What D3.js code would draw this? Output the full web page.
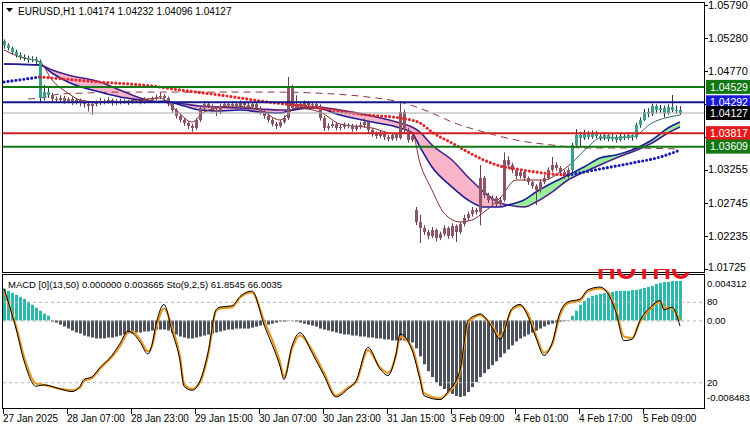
<!DOCTYPE html>
<html><head><meta charset="utf-8">
<script src="https://cdn.jsdelivr.net/npm/d3@7"></script>
<style>body{margin:0;background:#fff}svg{display:block}text{font-family:"Liberation Sans",Arial,sans-serif}</style>
</head><body><svg id="c" width="750" height="430"></svg>
<script>
// ---------- DATA ----------
const symbolTitle = "EURUSD,H1";
const lastOHLC = ["1.04174","1.04232","1.04096","1.04127"];
const indicatorTitle = "MACD [0](13,50) 0.000000 0.003665   Sto(9,2,5) 61.8545 66.0035";

const opens = [
1.05235,1.05174,1.05128,1.05066,1.05020,1.04989,1.04974,1.04943,1.04958,1.04928,
1.04358,1.04450,1.04404,1.04342,1.04327,1.04358,1.04312,1.04342,1.04296,1.04327,
1.04281,1.04265,1.04235,1.04265,1.04281,1.04312,1.04296,1.04327,1.04281,1.04312,
1.04296,1.04312,1.04296,1.04327,1.04312,1.04296,1.04327,1.04312,1.04342,1.04373,
1.04389,1.04358,1.04265,1.04173,1.04081,1.04019,1.03973,1.03927,1.03896,1.04019,
1.04204,1.04265,1.04235,1.04173,1.04142,1.04235,1.04265,1.04250,1.04265,1.04235,
1.04281,1.04250,1.04219,1.04265,1.04204,1.04142,1.04081,1.04019,1.03957,1.03927,
1.03988,1.04050,1.04512,1.04204,1.04265,1.04235,1.04281,1.04250,1.04265,1.04235,
1.04050,1.03896,1.03927,1.03957,1.03896,1.03911,1.03942,1.03927,1.03880,1.03911,
1.03942,1.03988,1.03865,1.03803,1.03773,1.03819,1.03757,1.03726,1.03788,1.03742,
1.04142,1.03865,1.03711,1.02633,1.02448,1.02356,1.02294,1.02233,1.02325,1.02202,
1.02263,1.02356,1.02233,1.02387,1.02294,1.02417,1.02510,1.02571,1.02633,1.02602,
1.03126,1.02864,1.02787,1.02818,1.02725,1.02787,1.03403,1.03326,1.03249,1.03157,
1.03218,1.03126,1.03064,1.03003,1.02941,1.03064,1.03126,1.03249,1.03326,1.03280,
1.03218,1.03157,1.03249,1.03634,1.03788,1.03742,1.03803,1.03757,1.03819,1.03773,
1.03742,1.03788,1.03726,1.03757,1.03711,1.03773,1.03742,1.03788,1.03757,1.03942,
1.04019,1.04142,1.04111,1.04235,1.04173,1.04204,1.04127,1.04219,1.04173,1.04174];
const highs = [
1.05260,1.05200,1.05150,1.05100,1.05060,1.05030,1.05010,1.05000,1.04990,1.04950,
1.04560,1.04520,1.04440,1.04380,1.04400,1.04390,1.04370,1.04380,1.04360,1.04350,
1.04320,1.04300,1.04300,1.04320,1.04360,1.04340,1.04370,1.04350,1.04340,1.04350,
1.04340,1.04330,1.04360,1.04350,1.04340,1.04370,1.04350,1.04380,1.04410,1.04440,
1.04420,1.04380,1.04290,1.04200,1.04110,1.04050,1.04000,1.03960,1.04050,1.04240,
1.04310,1.04300,1.04260,1.04200,1.04270,1.04300,1.04300,1.04310,1.04290,1.04320,
1.04310,1.04280,1.04300,1.04290,1.04230,1.04170,1.04110,1.04050,1.03990,1.04020,
1.04090,1.04681,1.04560,1.04400,1.04300,1.04320,1.04310,1.04300,1.04300,1.04260,
1.04080,1.03970,1.04000,1.03990,1.03950,1.03980,1.03970,1.03960,1.03950,1.03990,
1.04040,1.04010,1.03890,1.03840,1.03860,1.03850,1.03790,1.03820,1.03810,1.04313,
1.04180,1.03900,1.03820,1.02679,1.02560,1.02400,1.02330,1.02370,1.02350,1.02300,
1.02400,1.02380,1.02430,1.02410,1.02450,1.02560,1.02610,1.02680,1.02660,1.03326,
1.03160,1.02900,1.02860,1.02850,1.02830,1.03520,1.03460,1.03360,1.03280,1.03260,
1.03250,1.03150,1.03090,1.03030,1.03100,1.03170,1.03290,1.03450,1.03370,1.03310,
1.03250,1.03290,1.03670,1.03880,1.03830,1.03870,1.03850,1.03860,1.03850,1.03800,
1.03830,1.03810,1.03800,1.03790,1.03820,1.03800,1.03830,1.03800,1.03980,1.04060,
1.04190,1.04200,1.04270,1.04260,1.04250,1.04240,1.04260,1.04404,1.04240,1.04232];
const lows = [
1.05120,1.05090,1.05030,1.04980,1.04950,1.04930,1.04900,1.04910,1.04880,1.04300,
1.04320,1.04360,1.04300,1.04280,1.04290,1.04270,1.04280,1.04250,1.04260,1.04230,
1.04210,1.04150,1.04100,1.04230,1.04250,1.04260,1.04270,1.04240,1.04250,1.04260,
1.04270,1.04250,1.04270,1.04280,1.04260,1.04270,1.04280,1.04290,1.04320,1.04340,
1.04320,1.04230,1.04130,1.04040,1.03980,1.03930,1.03880,1.03840,1.03870,1.03990,
1.04170,1.04200,1.04130,1.04080,1.04110,1.04200,1.04210,1.04220,1.04190,1.04200,
1.04210,1.04180,1.04190,1.04170,1.04100,1.04040,1.03980,1.03920,1.03880,1.03900,
1.03960,1.04020,1.04170,1.04180,1.04200,1.04210,1.04210,1.04220,1.04200,1.04010,
1.03850,1.03860,1.03900,1.03860,1.03860,1.03880,1.03890,1.03840,1.03850,1.03880,
1.03900,1.03820,1.03760,1.03730,1.03740,1.03710,1.03690,1.03700,1.03700,1.03720,
1.03820,1.03670,1.03680,1.02400,1.02125,1.02250,1.02180,1.02200,1.02150,1.02170,
1.02230,1.02190,1.02200,1.02140,1.02260,1.02380,1.02470,1.02530,1.02560,1.02400,
1.02820,1.02740,1.02720,1.02680,1.02690,1.02760,1.03280,1.03200,1.03110,1.03120,
1.03080,1.03020,1.02960,1.02710,1.02900,1.03030,1.03100,1.03220,1.03240,1.03170,
1.03110,1.03120,1.03220,1.03600,1.03620,1.03710,1.03720,1.03730,1.03740,1.03700,
1.03710,1.03690,1.03690,1.03670,1.03690,1.03710,1.03720,1.03700,1.03730,1.03900,
1.04000,1.04060,1.04080,1.04120,1.04130,1.04060,1.04100,1.04140,1.04120,1.04096];
const closes = [
1.05174,1.05128,1.05066,1.05020,1.04989,1.04974,1.04943,1.04958,1.04928,1.04358,
1.04450,1.04404,1.04342,1.04327,1.04358,1.04312,1.04342,1.04296,1.04327,1.04281,
1.04265,1.04235,1.04265,1.04281,1.04312,1.04296,1.04327,1.04281,1.04312,1.04296,
1.04312,1.04296,1.04327,1.04312,1.04296,1.04327,1.04312,1.04342,1.04373,1.04389,
1.04358,1.04265,1.04173,1.04081,1.04019,1.03973,1.03927,1.03896,1.04019,1.04204,
1.04265,1.04235,1.04173,1.04142,1.04235,1.04265,1.04250,1.04265,1.04235,1.04281,
1.04250,1.04219,1.04265,1.04204,1.04142,1.04081,1.04019,1.03957,1.03927,1.03988,
1.04050,1.04512,1.04204,1.04265,1.04235,1.04281,1.04250,1.04265,1.04235,1.04050,
1.03896,1.03927,1.03957,1.03896,1.03911,1.03942,1.03927,1.03880,1.03911,1.03942,
1.03988,1.03865,1.03803,1.03773,1.03819,1.03757,1.03726,1.03788,1.03742,1.04142,
1.03865,1.03711,1.03773,1.02448,1.02356,1.02294,1.02233,1.02325,1.02202,1.02263,
1.02356,1.02233,1.02387,1.02294,1.02417,1.02510,1.02571,1.02633,1.02602,1.03126,
1.02864,1.02787,1.02818,1.02725,1.02787,1.03403,1.03326,1.03249,1.03157,1.03218,
1.03126,1.03064,1.03003,1.02941,1.03064,1.03126,1.03249,1.03326,1.03280,1.03218,
1.03157,1.03249,1.03634,1.03788,1.03742,1.03803,1.03757,1.03819,1.03773,1.03742,
1.03788,1.03726,1.03757,1.03711,1.03773,1.03742,1.03788,1.03757,1.03942,1.04019,
1.04142,1.04111,1.04235,1.04173,1.04204,1.04127,1.04219,1.04173,1.04174,1.04127];

// bar ranges (inclusive) in the up-trend regime (teal candles / blue dots)
const candleUpRanges = [[0, 11], [142, 169]];
const dotUpRanges = [[0, 9], [141, 169]];

// trend-following dotted line (bar index, price)
const dotIdx = [0,9,12,24,37,44,54,66,77,82,91,99,104,107,112,116,120,124,128,133,137,141,149,157,164,169];
const dotVal = [1.04604,1.04681,1.04666,1.04604,1.04543,1.04481,1.04404,1.04296,1.04219,1.04173,1.04096,1.04050,1.03973,1.03834,1.03665,1.03526,1.03403,1.03311,1.03265,1.03218,1.03187,1.03172,1.03265,1.03357,1.03449,1.03557];

// cloud: fast line A and slow line B
const cloudIdx = [0,9,12,16,24,29,34,37,40,45,49,54,59,64,69,72,74,78,84,92,99,102,104,107,112,116,120,124,126,130,133,137,141,145,149,153,157,162,166,169];
const cloudA = [1.04881,1.04866,1.04743,1.04604,1.04449,1.04373,1.04327,1.04296,1.04312,1.04235,1.04173,1.04158,1.04173,1.04142,1.04127,1.04173,1.04204,1.04204,1.04096,1.03988,1.03896,1.03819,1.03603,1.03295,1.02987,1.02787,1.02679,1.02679,1.02710,1.02787,1.02910,1.03049,1.03172,1.03295,1.03434,1.03480,1.03557,1.03711,1.03896,1.03988];
const cloudB = [1.04881,1.04866,1.04789,1.04712,1.04604,1.04481,1.04358,1.04312,1.04296,1.04265,1.04235,1.04219,1.04204,1.04189,1.04173,1.04173,1.04189,1.04219,1.04173,1.04081,1.03973,1.03911,1.03834,1.03634,1.03403,1.03141,1.02910,1.02741,1.02710,1.02679,1.02756,1.02910,1.03095,1.03218,1.03327,1.03434,1.03526,1.03665,1.03819,1.03911];

// fast moving average
const fastIdx = [0,4,9,12,16,19,24,32,39,43,47,50,57,64,69,73,79,84,92,98,102,104,107,110,114,117,120,124,128,132,135,139,142,146,149,157,162,169];
const fastVal = [1.05097,1.04989,1.04912,1.04635,1.04434,1.04327,1.04296,1.04312,1.04358,1.04173,1.03988,1.04142,1.04235,1.04173,1.04019,1.04204,1.04142,1.03957,1.03896,1.03803,1.03834,1.03357,1.02941,1.02587,1.02449,1.02480,1.02602,1.02818,1.03095,1.03095,1.03095,1.03218,1.03357,1.03603,1.03742,1.03757,1.03973,1.04096];

// slow dashed moving average
const slowIdx = [6,9,14,20,30,39,54,68,78,91,99,107,112,120,128,137,145,154,169];
const slowVal = [1.04342,1.04358,1.04419,1.04434,1.04449,1.04449,1.04449,1.04449,1.04434,1.04373,1.04296,1.04127,1.03988,1.03834,1.03711,1.03634,1.03588,1.03588,1.03573];

// horizontal levels
const levelValues = [1.04529, 1.04292, 1.03817, 1.03609];
const currentPrice = 1.04127;
const priceTicks = [1.05790,1.05280,1.04770,1.04265,1.03765,1.03255,1.02745,1.02235,1.01725];

// MACD histogram (x 1e-4)
const macdHist = [
34.5,32.3,30.1,28.0,25.8,23.6,20.4,17.1,13.9,10.6,
7.4,5.2,-1.3,-2.4,-4.6,-6.7,-8.9,-11.1,-13.2,-14.3,
-16.5,-17.6,-18.7,-19.7,-19.7,-19.7,-18.7,-18.7,-17.6,-16.5,
-15.4,-14.3,-14.3,-13.2,-13.2,-12.1,-12.1,-11.1,-10.0,-10.0,
-10.0,-11.1,-13.2,-15.4,-17.6,-18.7,-19.7,-19.7,-18.7,-17.6,
-16.5,-15.4,-14.3,-13.2,-12.1,-11.1,-10.0,-10.0,-8.9,-8.9,
-8.9,-8.9,-7.8,-6.7,-5.6,-4.6,-4.6,-3.5,-2.4,-1.3,
-1.3,-0.4,-0.4,-1.3,-2.4,-3.5,-4.6,-5.6,-6.7,-8.9,
-10.0,-11.1,-12.1,-13.2,-14.3,-15.4,-15.4,-16.5,-16.5,-17.6,
-17.6,-18.7,-18.7,-19.7,-19.7,-20.8,-20.8,-21.9,-21.9,-21.9,
-21.9,-23.0,-24.1,-30.6,-39.3,-48.0,-55.5,-62.0,-67.4,-71.8,
-75.0,-78.3,-80.4,-82.6,-83.7,-82.6,-78.3,-72.9,-67.4,-62.0,
-57.6,-53.3,-48.9,-44.7,-40.3,-36.0,-31.7,-27.3,-23.0,-19.7,
-17.6,-15.4,-13.2,-11.1,-8.9,-6.7,-4.6,-3.5,-2.4,-1.3,
-0.8,-0.4,5.2,10.6,17.1,21.5,24.7,26.9,28.0,29.1,
30.1,31.2,31.2,32.3,32.3,32.3,32.3,33.4,33.4,34.5,
35.6,36.7,37.7,39.9,41.0,42.1,42.1,43.2,43.2,43.2];
const macdRange = [-84.83, 43.12]; // window min / max (x 1e-4)
const macdAxisLabels = ["-0.008483", "0.00", "0.004312"];

// Stochastic
const stochIdx = [0,3,5,8,10,14,17,19,20,22,24,27,29,31,32,34,36,37,38,40,42,44,45,47,49,51,53,54,57,59,62,65,69,70,72,74,77,80,83,86,88,91,94,96,98,99,102,104,105,109,111,114,116,118,119,122,124,127,129,131,133,135,137,139,141,144,146,149,151,153,155,157,159,162,164,165,167,169];
const stochMain = [90,60,36,17,18,15,13,17,22,24,31,40,49,58,57,50,41,48,63,78,58,36,17,14,21,42,74,76,77,84,88,63,32,22,47,57,42,25,9,15,21,46,30,25,41,56,44,22,10,7,13,29,66,70,71,61,52,75,78,69,53,40,49,72,80,82,89,91,86,72,51,52,66,77,81,74,76,61.85];
const stochSignal = [88,62,39,19,18,15,14,16,21,23,30,39,47,57,58,52,43,47,60,75,61,39,19,15,20,40,73,75,76,83,87,66,35,24,45,55,44,27,10,16,20,44,31,27,40,54,46,24,12,8,12,27,64,69,70,62,54,74,77,71,55,42,48,70,79,81,88,90,87,74,54,53,65,76,80,76,75,66.0];
const stochLevels = [80, 20];

// time axis
const timeIdx = [0,16,32,48,64,80,96,112,128,144,160];
const timeLabels = ["27 Jan 2025","28 Jan 07:00","28 Jan 23:00","29 Jan 15:00","30 Jan 07:00","30 Jan 23:00","31 Jan 15:00","3 Feb 09:00","4 Feb 01:00","4 Feb 17:00","5 Feb 09:00"];

// ---------- STYLE ----------
const C = {
  tealBody:"#3b9e8b", tealWick:"#1f3f38", brownBody:"#8a5666", brownWick:"#6e3c4c",
  dotDown:"#e0262a", dotUp:"#1c1cb0", pink:"#f8b4c8", green:"#9aef9a",
  lineA:"#1c1c96", lineB:"#4a1f8a", fastDown:"#8b2a2a", fastUp:"#2b6b5c", slow:"#8b3a3a",
  levels:["#137813","#16168a","#d42020","#137813"], boxes:["#137813","#1a1ad8","#e21c1c","#137813"],
  macdPos:"#2cb8aa", macdNeg:"#4c515b", stochMain:"#000", stochSig:"#e8961e"
};

// ---------- DRAW ----------
const svg = d3.select("#c");
const L = 3, R = 704, mTop = 3, mBot = 272, sTop = 275, sBot = 409;
const x = d3.scaleLinear().domain([0, 169]).range([4, 680]);
const y = d3.scaleLinear().domain([1.01725, 1.05790]).range([269, 5]);
const yS = d3.scaleLinear().domain([0, 100]).range([409, 275]);
const yM = d3.scaleLinear().domain(macdRange).range([398, 281]);
const inR = (i, rs) => rs.some(([a, b]) => i >= a && i <= b);

const defs = svg.append("defs");
defs.append("clipPath").attr("id","mclip").append("rect").attr("x",L).attr("y",mTop).attr("width",R-L).attr("height",mBot-mTop);
defs.append("clipPath").attr("id","sclip").append("rect").attr("x",L).attr("y",sTop).attr("width",R-L).attr("height",sBot-sTop);

const cloud = cloudIdx.map((d,k)=>({i:d,a:cloudA[k],b:cloudB[k]}));
const cv = d3.curveMonotoneX;
const aboveA = d3.area().curve(cv).x(d=>x(d.i)).y0(0).y1(d=>y(d.a));
const belowA = d3.area().curve(cv).x(d=>x(d.i)).y0(430).y1(d=>y(d.a));
defs.append("clipPath").attr("id","cpPink").append("path").attr("d",aboveA(cloud));
defs.append("clipPath").attr("id","cpGreen").append("path").attr("d",belowA(cloud));

const main = svg.append("g").attr("clip-path","url(#mclip)");
const areaAB = d3.area().curve(cv).x(d=>x(d.i)).y0(d=>y(d.a)).y1(d=>y(d.b));
main.append("g").attr("clip-path","url(#cpPink)").append("path").attr("d",areaAB(cloud)).attr("fill",C.pink);
main.append("g").attr("clip-path","url(#cpGreen)").append("path").attr("d",areaAB(cloud)).attr("fill",C.green);

// slow dashed MA
const line = d3.line().curve(cv).x(d=>x(d[0])).y(d=>y(d[1]));
main.append("path").attr("d",line(slowIdx.map((d,k)=>[d,slowVal[k]]))).attr("fill","none")
  .attr("stroke",C.slow).attr("stroke-width",1).attr("stroke-dasharray","7,5");

// cloud lines
main.append("path").attr("d",line(cloud.map(d=>[d.i,d.b]))).attr("fill","none").attr("stroke",C.lineB).attr("stroke-width",1.6);
main.append("path").attr("d",line(cloud.map(d=>[d.i,d.a]))).attr("fill","none").attr("stroke",C.lineA).attr("stroke-width",1.6);

// fast MA
const fast = fastIdx.map((d,k)=>[d,fastVal[k]]);
main.append("path").attr("d",line(fast.filter(d=>d[0]<=142))).attr("fill","none").attr("stroke",C.fastDown).attr("stroke-width",1);
main.append("path").attr("d",line(fast.filter(d=>d[0]>=142))).attr("fill","none").attr("stroke",C.fastUp).attr("stroke-width",1);

// candles
const bars = main.append("g").selectAll("g").data(d3.range(closes.length)).join("g");
bars.append("line").attr("x1",i=>x(i)+0.5).attr("x2",i=>x(i)+0.5)
  .attr("y1",i=>y(highs[i])).attr("y2",i=>y(lows[i]))
  .attr("stroke",i=>inR(i,candleUpRanges)?C.tealWick:C.brownWick).attr("stroke-width",1);
bars.append("rect").attr("x",i=>x(i)-1).attr("width",3)
  .attr("y",i=>y(Math.max(opens[i],closes[i])))
  .attr("height",i=>Math.max(1,Math.abs(y(opens[i])-y(closes[i]))))
  .attr("fill",i=>inR(i,candleUpRanges)?C.tealBody:C.brownBody);

// dotted trend line
const dots = dotIdx.map((d,k)=>[d,dotVal[k]]);
const dotSegs = [
  {pts:dots.filter(d=>d[0]<=dotUpRanges[0][1]), c:C.dotUp},
  {pts:dots.filter(d=>d[0]>=dotUpRanges[0][1] && d[0]<=dotUpRanges[1][0]), c:C.dotDown},
  {pts:dots.filter(d=>d[0]>=dotUpRanges[1][0]), c:C.dotUp}];
dotSegs.forEach(s=>main.append("path").attr("d",line(s.pts)).attr("fill","none")
  .attr("stroke",s.c).attr("stroke-width",3.2).attr("stroke-linecap","round").attr("stroke-dasharray","0,4"));

// horizontal levels
main.append("line").attr("x1",L).attr("x2",R).attr("y1",y(currentPrice)).attr("y2",y(currentPrice)).attr("stroke","#a8a8a8").attr("stroke-width",1);
levelValues.forEach((v,k)=>main.append("line").attr("x1",L).attr("x2",R).attr("y1",y(v)).attr("y2",y(v))
  .attr("stroke",C.levels[k]).attr("stroke-width",2));

// ---------- SUB WINDOW ----------
const sub = svg.append("g").attr("clip-path","url(#sclip)");
sub.selectAll("rect.h").data(d3.range(macdHist.length)).join("rect")
  .attr("x",i=>x(i)-1).attr("width",3)
  .attr("y",i=>Math.min(yM(0),yM(macdHist[i])))
  .attr("height",i=>Math.abs(yM(macdHist[i])-yM(0)))
  .attr("fill",i=>macdHist[i]>=0?C.macdPos:C.macdNeg);
[yS(stochLevels[0]), yM(0), yS(stochLevels[1])].forEach(yy=>
  sub.append("line").attr("x1",L).attr("x2",R).attr("y1",yy+0.5).attr("y2",yy+0.5)
    .attr("stroke","#b4b4b4").attr("stroke-dasharray","3,3"));
const sl = d3.line().curve(cv).x(d=>x(d[0])).y(d=>yS(d[1]));
sub.append("path").attr("d",sl(stochIdx.map((d,k)=>[d,stochSignal[k]]))).attr("fill","none").attr("stroke",C.stochSig).attr("stroke-width",2.2);
sub.append("path").attr("d",sl(stochIdx.map((d,k)=>[d,stochMain[k]]))).attr("fill","none").attr("stroke",C.stochMain).attr("stroke-width",1);

// ---------- FRAMES ----------
svg.append("rect").attr("x",2.5).attr("y",2.5).attr("width",R-2).attr("height",mBot-2).attr("fill","none").attr("stroke","#000");
svg.append("rect").attr("x",2.5).attr("y",sTop-0.5).attr("width",R-2).attr("height",sBot-sTop).attr("fill","none").attr("stroke","#000");

// ---------- TEXTS ----------
svg.append("path").attr("d","M6,8 L13,8 L9.5,12 Z").attr("fill","#000");
svg.append("text").attr("x",18).attr("y",15).attr("font-size",10).attr("fill","#000")
  .text(symbolTitle + "  " + lastOHLC.join(" "));
svg.append("text").attr("x",8).attr("y",288).attr("font-size",9.5).attr("fill","#000").text(indicatorTitle);

// price axis
const fmt = d3.format(".5f");
const boxVals = [levelValues[0], levelValues[1], currentPrice, levelValues[2], levelValues[3]];
const boxCols = [C.boxes[0], C.boxes[1], "#000", C.boxes[2], C.boxes[3]];
priceTicks.forEach(v=>{
  svg.append("line").attr("x1",R).attr("x2",R+4).attr("y1",Math.round(y(v))+0.5).attr("y2",Math.round(y(v))+0.5).attr("stroke","#000");
  const covered = boxVals.some(b=>Math.abs(y(b)-y(v))<12);
  const last = v === priceTicks[priceTicks.length-1];
  if (!covered) svg.append("text").attr("x",708).attr("y",y(v) - (last ? 2 : 0)).attr("dy","0.35em")
    .attr("font-size", last ? 10.5 : 11).text(fmt(v));
});
boxVals.forEach((v,k)=>{
  svg.append("rect").attr("x",706).attr("y",y(v)-7).attr("width",44).attr("height",14).attr("fill",boxCols[k]);
  svg.append("text").attr("x",710).attr("y",y(v)).attr("dy","0.36em").attr("font-size",10.5).attr("fill","#fff").text(fmt(v));
});

// sub axis
[[yM(macdRange[1])+3,macdAxisLabels[2]],[yS(80),"80"],[yM(0),macdAxisLabels[1]],[yS(20),"20"],[yM(macdRange[0]),macdAxisLabels[0]]]
  .forEach(([yy,t])=>svg.append("text").attr("x",707).attr("y",yy).attr("dy","0.35em").attr("font-size",9.5).text(t));

// time axis
timeIdx.forEach((d,k)=>{
  svg.append("line").attr("x1",x(d)-0.5).attr("x2",x(d)-0.5).attr("y1",sBot).attr("y2",sBot+5).attr("stroke","#000");
  svg.append("text").attr("x",x(d)-1).attr("y",422).attr("font-size",10).text(timeLabels[k]);
});

// red watermark peeking at the window edge
defs.append("clipPath").attr("id","wm").append("rect").attr("x",590).attr("y",269).attr("width",104).attr("height",10);
svg.append("text").attr("clip-path","url(#wm)").attr("x",597).attr("y",279).attr("font-size",30)
  .attr("font-weight","bold").attr("fill","#e8191e")
  .attr("textLength",93).attr("lengthAdjust","spacingAndGlyphs").text("HOTHC");
</script></body></html>
